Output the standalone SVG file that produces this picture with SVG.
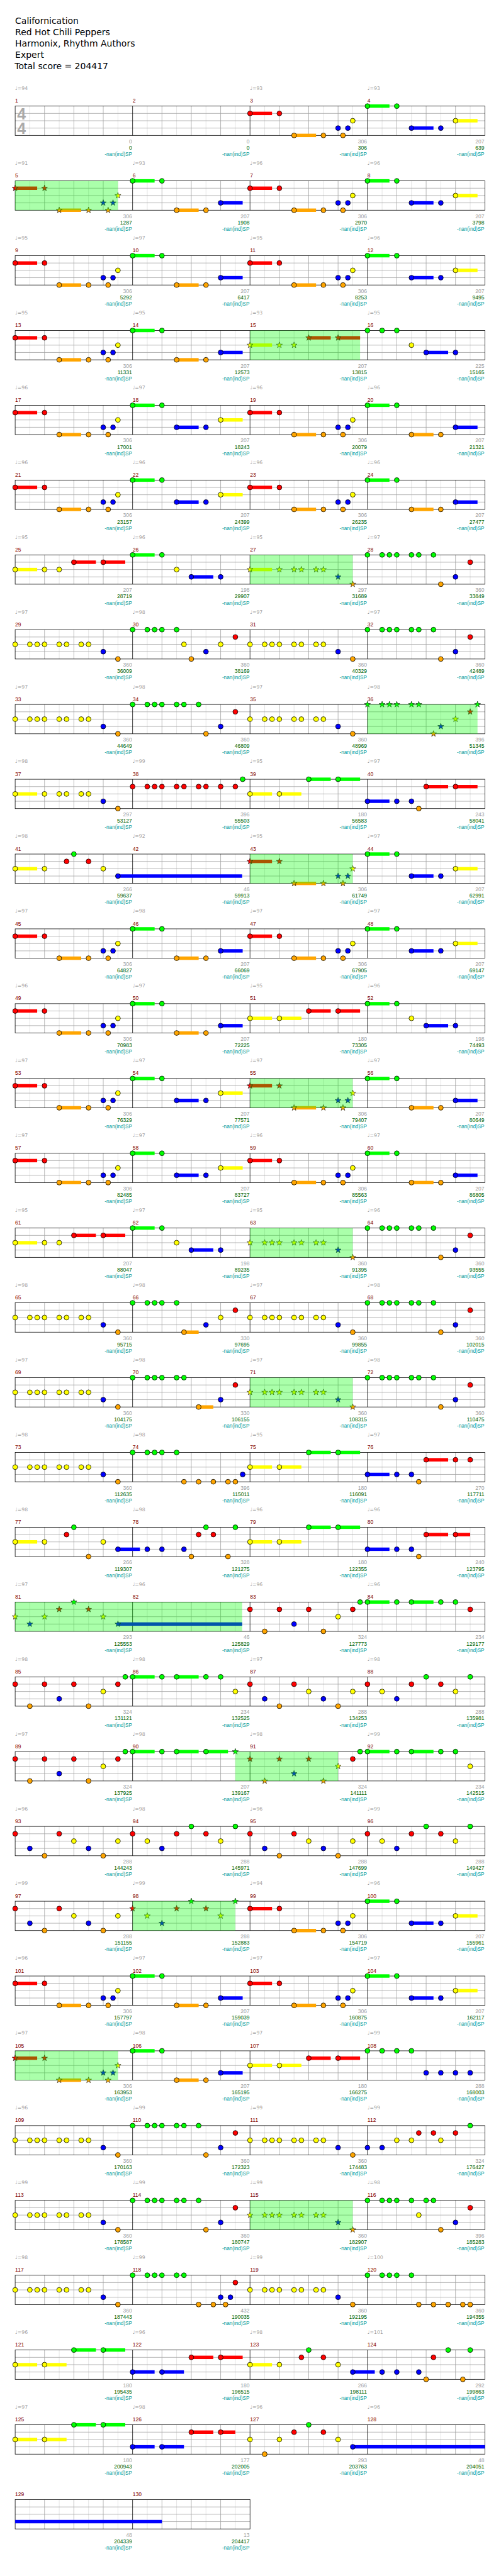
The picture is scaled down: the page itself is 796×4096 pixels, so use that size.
<svg xmlns="http://www.w3.org/2000/svg" width="796" height="4096" viewBox="0 0 796 4096">
<style>
.r{fill:#f00}.g{fill:#0f0}.y{fill:#ff0}.b{fill:#00f}.o{fill:#ffa500}
.sp{fill:#0f0;fill-opacity:.333}
text{font-family:"Liberation Sans",Arial,sans-serif;font-size:11px}
.tp{font-family:"DejaVu Sans",sans-serif;font-size:10px;fill:#a0a0a0}
.mn{fill:#800000}
.gy{fill:#a0a0a0;text-anchor:end}
.gn{fill:#006400;text-anchor:end}
.tl{fill:#009b9b;text-anchor:end;font-size:10.5px}
.ti{font-family:"DejaVu Sans",sans-serif;font-size:18px;fill:#000}
.ts{font-family:"Liberation Sans",sans-serif;font-weight:bold;font-size:32px;fill:#aaa}
</style>
<defs>
<circle id="c" r="5" stroke="#000" stroke-width="1"/>
<path id="s" d="M0,-6.5L1.53,-2.1L6.18,-2.01L2.47,0.8L3.82,5.26L0,2.6L-3.82,5.26L-2.47,0.8L-6.18,-2.01L-1.53,-2.1Z" stroke="#000" stroke-width=".7"/>
<g id="st4">
<path d="M61 0V60M121 0V60M181 0V60M241 0V60M301 0V60M361 0V60M421 0V60M481 0V60M541 0V60M601 0V60M661 0V60M721 0V60M781 0V60M841 0V60M901 0V60M961 0V60" stroke="#dcdcdc"/>
<path d="M91 0V60M151 0V60M211 0V60M331 0V60M391 0V60M451 0V60M571 0V60M631 0V60M691 0V60M811 0V60M871 0V60M931 0V60M31 15H991M31 30H991M31 45H991" stroke="#a0a0a0"/>
<path d="M271 0V60M511 0V60M751 0V60" stroke="#000"/>
<rect x="31" width="960" height="60" fill="none" stroke="#000"/>
</g>
<g id="st2">
<path d="M61 0V60M121 0V60M181 0V60M241 0V60M301 0V60M361 0V60M421 0V60M481 0V60" stroke="#dcdcdc"/>
<path d="M91 0V60M151 0V60M211 0V60M331 0V60M391 0V60M451 0V60M31 15H511M31 30H511M31 45H511" stroke="#a0a0a0"/>
<path d="M271 0V60" stroke="#000"/>
<rect x="31" width="480" height="60" fill="none" stroke="#000"/>
</g>
<g id="tl4"><text class="tl" y="102"><tspan x="270">-nan(ind)SP</tspan><tspan x="510">-nan(ind)SP</tspan><tspan x="750">-nan(ind)SP</tspan><tspan x="990">-nan(ind)SP</tspan></text></g>
<g id="tl2"><text class="tl" y="102"><tspan x="270">-nan(ind)SP</tspan><tspan x="510">-nan(ind)SP</tspan></text></g>
<g id="yc8"><use href="#c" class="y" y="30"/><use href="#c" class="y" x="30" y="30"/><use href="#c" class="y" x="45" y="30"/><use href="#c" class="y" x="60" y="30"/><use href="#c" class="y" x="90" y="30"/><use href="#c" class="y" x="105" y="30"/><use href="#c" class="y" x="135" y="30"/><use href="#c" class="y" x="150" y="30"/></g>
<g id="ys8"><use href="#s" class="y" y="30"/><use href="#s" class="y" x="30" y="30"/><use href="#s" class="y" x="45" y="30"/><use href="#s" class="y" x="60" y="30"/><use href="#s" class="y" x="90" y="30"/><use href="#s" class="y" x="105" y="30"/><use href="#s" class="y" x="135" y="30"/><use href="#s" class="y" x="150" y="30"/></g>
<g id="gc5"><use href="#c" class="g"/><use href="#c" class="g" x="30"/><use href="#c" class="g" x="45"/><use href="#c" class="g" x="60"/><use href="#c" class="g" x="90"/></g>
<g id="pA"><rect class="r" y="11.5" width="45" height="7"/><rect class="o" x="90" y="56.5" width="45" height="7"/><use href="#c" class="r" y="15"/><use href="#c" class="r" x="60" y="15"/><use href="#c" class="o" x="90" y="60"/><use href="#c" class="o" x="150" y="60"/><use href="#c" class="b" x="180" y="45"/><use href="#c" class="o" x="190" y="60"/><use href="#c" class="b" x="200" y="45"/><use href="#c" class="y" x="210" y="30"/></g>
<g id="pAs"><rect class="r" y="11.5" width="45" height="7"/><rect class="o" x="90" y="56.5" width="45" height="7"/><use href="#s" class="r" y="15"/><use href="#s" class="r" x="60" y="15"/><use href="#s" class="o" x="90" y="60"/><use href="#s" class="o" x="150" y="60"/><use href="#s" class="b" x="180" y="45"/><use href="#s" class="o" x="190" y="60"/><use href="#s" class="b" x="200" y="45"/><use href="#s" class="y" x="210" y="30"/></g>
<g id="pB1"><rect class="g" y="-3.5" width="45" height="7"/><rect class="o" x="90" y="56.5" width="45" height="7"/><rect class="b" x="180" y="41.5" width="45" height="7"/><use href="#c" class="g"/><use href="#c" class="g" x="60"/><use href="#c" class="o" x="90" y="60"/><use href="#c" class="o" x="150" y="60"/><use href="#c" class="b" x="180" y="45"/></g>
<g id="pB2"><rect class="g" y="-3.5" width="45" height="7"/><rect class="b" x="90" y="41.5" width="45" height="7"/><rect class="y" x="180" y="26.5" width="45" height="7"/><use href="#c" class="g"/><use href="#c" class="g" x="60"/><use href="#c" class="b" x="90" y="45"/><use href="#c" class="b" x="150" y="45"/><use href="#c" class="y" x="180" y="30"/></g>
<g id="p15s"><rect class="y" y="26.5" width="45" height="7"/><rect class="r" x="120" y="11.5" width="45" height="7"/><rect class="r" x="180" y="11.5" width="45" height="7"/><use href="#s" class="y" y="30"/><use href="#s" class="y" x="60" y="30"/><use href="#s" class="y" x="90" y="30"/><use href="#s" class="r" x="120" y="15"/><use href="#s" class="r" x="180" y="15"/></g>
<g id="p16"><rect class="b" x="120" y="41.5" width="45" height="7"/><use href="#c" class="g"/><use href="#c" class="g" x="30"/><use href="#c" class="g" x="60"/><use href="#c" class="y" x="90" y="30"/><use href="#c" class="b" x="120" y="45"/><use href="#c" class="b" x="180" y="45"/></g>
<g id="p25"><rect class="y" y="26.5" width="45" height="7"/><rect class="r" x="120" y="11.5" width="45" height="7"/><rect class="r" x="180" y="11.5" width="45" height="7"/><use href="#c" class="y" y="30"/><use href="#c" class="y" x="60" y="30"/><use href="#c" class="y" x="90" y="30"/><use href="#c" class="r" x="120" y="15"/><use href="#c" class="r" x="180" y="15"/></g>
<g id="p26"><rect class="g" y="-3.5" width="45" height="7"/><rect class="b" x="120" y="41.5" width="45" height="7"/><use href="#c" class="g"/><use href="#c" class="g" x="60"/><use href="#c" class="y" x="90" y="30"/><use href="#c" class="b" x="120" y="45"/><use href="#c" class="b" x="180" y="45"/></g>
<g id="p27s"><rect class="y" y="26.5" width="45" height="7"/><use href="#s" class="y" y="30"/><use href="#s" class="y" x="60" y="30"/><use href="#s" class="y" x="90" y="30"/><use href="#s" class="y" x="105" y="30"/><use href="#s" class="y" x="135" y="30"/><use href="#s" class="y" x="150" y="30"/><use href="#s" class="b" x="180" y="45"/><use href="#s" class="o" x="210" y="60"/></g>
<g id="p63s"><use href="#ys8"/><use href="#s" class="b" x="180" y="45"/><use href="#s" class="o" x="210" y="60"/></g>
<g id="p28"><use href="#gc5"/><use href="#c" class="g" x="105"/><use href="#c" class="g" x="135"/><use href="#c" class="o" x="150" y="60"/><use href="#c" class="b" x="180" y="45"/><use href="#c" class="r" x="210" y="15"/></g>
<g id="p29"><use href="#yc8"/><use href="#c" class="b" x="180" y="45"/><use href="#c" class="o" x="210" y="60"/></g>
<g id="p30"><use href="#gc5"/><use href="#c" class="y" x="105" y="30"/><use href="#c" class="o" x="120" y="60"/><use href="#c" class="b" x="150" y="45"/><use href="#c" class="y" x="180" y="30"/><use href="#c" class="r" x="210" y="15"/></g>
<g id="p36s"><use href="#s" class="g"/><use href="#s" class="g" x="30"/><use href="#s" class="g" x="45"/><use href="#s" class="g" x="60"/><use href="#s" class="g" x="90"/><use href="#s" class="g" x="105"/><use href="#s" class="o" x="135" y="60"/><use href="#s" class="b" x="150" y="45"/><use href="#s" class="y" x="180" y="30"/><use href="#s" class="r" x="210" y="15"/><use href="#s" class="g" x="225"/></g>
<g id="p37"><rect class="y" y="26.5" width="45" height="7"/><use href="#c" class="y" y="30"/><use href="#c" class="y" x="60" y="30"/><use href="#c" class="y" x="90" y="30"/><use href="#c" class="y" x="105" y="30"/><use href="#c" class="y" x="135" y="30"/><use href="#c" class="y" x="150" y="30"/><use href="#c" class="b" x="180" y="45"/><use href="#c" class="o" x="210" y="60"/></g>
<g id="p38"><use href="#c" class="r" y="15"/><use href="#c" class="r" x="30" y="15"/><use href="#c" class="r" x="45" y="15"/><use href="#c" class="r" x="60" y="15"/><use href="#c" class="r" x="90" y="15"/><use href="#c" class="r" x="105" y="15"/><use href="#c" class="r" x="135" y="15"/><use href="#c" class="r" x="150" y="15"/><use href="#c" class="r" x="180" y="15"/><use href="#c" class="r" x="210" y="15"/><use href="#c" class="g" x="225"/></g>
<g id="p39"><rect class="y" y="26.5" width="45" height="7"/><rect class="y" x="60" y="26.5" width="45" height="7"/><rect class="g" x="120" y="-3.5" width="45" height="7"/><rect class="g" x="180" y="-3.5" width="45" height="7"/><use href="#c" class="y" y="30"/><use href="#c" class="y" x="60" y="30"/><use href="#c" class="g" x="120"/><use href="#c" class="g" x="180"/></g>
<g id="p51"><rect class="y" y="26.5" width="45" height="7"/><rect class="y" x="60" y="26.5" width="45" height="7"/><rect class="r" x="120" y="11.5" width="45" height="7"/><rect class="r" x="180" y="11.5" width="45" height="7"/><use href="#c" class="y" y="30"/><use href="#c" class="y" x="60" y="30"/><use href="#c" class="r" x="120" y="15"/><use href="#c" class="r" x="180" y="15"/></g>
<g id="p122"><rect class="b" y="41.5" width="45" height="7"/><rect class="b" x="60" y="41.5" width="45" height="7"/><rect class="r" x="120" y="11.5" width="45" height="7"/><rect class="r" x="180" y="11.5" width="45" height="7"/><use href="#c" class="b" y="45"/><use href="#c" class="b" x="60" y="45"/><use href="#c" class="r" x="120" y="15"/><use href="#c" class="r" x="180" y="15"/></g>
<g id="p126"><rect class="b" y="41.5" width="45" height="7"/><rect class="b" x="60" y="41.5" width="45" height="7"/><rect class="r" x="120" y="11.5" width="45" height="7"/><rect class="r" x="180" y="11.5" width="30" height="7"/><use href="#c" class="b" y="45"/><use href="#c" class="b" x="60" y="45"/><use href="#c" class="r" x="120" y="15"/><use href="#c" class="r" x="180" y="15"/></g>
<g id="p40"><rect class="b" y="41.5" width="45" height="7"/><rect class="r" x="120" y="11.5" width="45" height="7"/><rect class="r" x="180" y="11.5" width="45" height="7"/><use href="#c" class="b" y="45"/><use href="#c" class="b" x="60" y="45"/><use href="#c" class="b" x="90" y="45"/><use href="#c" class="o" x="105" y="60"/><use href="#c" class="r" x="120" y="15"/><use href="#c" class="r" x="180" y="15"/></g>
<g id="p76"><rect class="b" y="41.5" width="45" height="7"/><rect class="r" x="120" y="11.5" width="45" height="7"/><use href="#c" class="b" y="45"/><use href="#c" class="b" x="60" y="45"/><use href="#c" class="b" x="90" y="45"/><use href="#c" class="o" x="105" y="60"/><use href="#c" class="r" x="120" y="15"/><use href="#c" class="r" x="180" y="15"/><use href="#c" class="r" x="210" y="15"/></g>
<g id="p80"><rect class="b" y="41.5" width="45" height="7"/><rect class="r" x="120" y="11.5" width="45" height="7"/><rect class="r" x="180" y="11.5" width="30" height="7"/><use href="#c" class="b" y="45"/><use href="#c" class="b" x="60" y="45"/><use href="#c" class="b" x="90" y="45"/><use href="#c" class="o" x="105" y="60"/><use href="#c" class="r" x="120" y="15"/><use href="#c" class="r" x="180" y="15"/></g>
<g id="p41"><rect class="y" y="26.5" width="45" height="7"/><rect class="b" x="210" y="41.5" width="254" height="7"/><use href="#c" class="y" y="30"/><use href="#c" class="y" x="60" y="30"/><use href="#c" class="r" x="105" y="15"/><use href="#c" class="g" x="120"/><use href="#c" class="r" x="150" y="15"/><use href="#c" class="y" x="180" y="30"/><use href="#c" class="b" x="210" y="45"/></g>
<g id="p77"><rect class="y" y="26.5" width="45" height="7"/><rect class="b" x="210" y="41.5" width="45" height="7"/><use href="#c" class="y" y="30"/><use href="#c" class="y" x="60" y="30"/><use href="#c" class="r" x="105" y="15"/><use href="#c" class="g" x="120"/><use href="#c" class="o" x="150" y="60"/><use href="#c" class="y" x="180" y="30"/><use href="#c" class="b" x="210" y="45"/></g>
<g id="p123"><rect class="y" y="26.5" width="45" height="7"/><rect class="b" x="210" y="41.5" width="45" height="7"/><use href="#c" class="y" y="30"/><use href="#c" class="y" x="60" y="30"/><use href="#c" class="r" x="105" y="15"/><use href="#c" class="g" x="120"/><use href="#c" class="r" x="150" y="15"/><use href="#c" class="y" x="180" y="30"/><use href="#c" class="b" x="210" y="45"/></g>
<g id="p78"><use href="#c" class="b" x="30" y="45"/><use href="#c" class="b" x="60" y="45"/><use href="#c" class="b" x="105" y="45"/><use href="#c" class="o" x="120" y="60"/><use href="#c" class="r" x="135" y="15"/><use href="#c" class="g" x="150"/><use href="#c" class="r" x="165" y="15"/><use href="#c" class="o" x="195" y="60"/><use href="#c" class="g" x="210"/></g>
<g id="p124"><use href="#c" class="b" x="30" y="45"/><use href="#c" class="b" x="60" y="45"/><use href="#c" class="b" x="105" y="45"/><use href="#c" class="o" x="120" y="60"/><use href="#c" class="r" x="135" y="15"/><use href="#c" class="g" x="165"/><use href="#c" class="o" x="195" y="60"/><use href="#c" class="g" x="210"/></g>
<g id="p66"><rect class="o" x="105" y="56.5" width="30" height="7"/><use href="#gc5"/><use href="#c" class="o" x="105" y="60"/><use href="#c" class="b" x="150" y="45"/><use href="#c" class="y" x="180" y="30"/><use href="#c" class="r" x="210" y="15"/></g>
<g id="p70"><rect class="o" x="135" y="56.5" width="30" height="7"/><use href="#gc5"/><use href="#c" class="g" x="105"/><use href="#c" class="o" x="135" y="60"/><use href="#c" class="b" x="180" y="45"/><use href="#c" class="r" x="210" y="15"/></g>
<g id="p74"><use href="#gc5"/><use href="#c" class="o" x="105" y="60"/><use href="#c" class="o" x="135" y="60"/><use href="#c" class="o" x="165" y="60"/><use href="#c" class="o" x="195" y="60"/><use href="#c" class="o" x="210" y="60"/><use href="#c" class="b" x="225" y="45"/></g>
<g id="p116"><use href="#gc5"/><use href="#c" class="y" x="105" y="30"/><use href="#c" class="g" x="120"/><use href="#c" class="g" x="135"/><use href="#c" class="o" x="150" y="60"/><use href="#c" class="b" x="180" y="45"/><use href="#c" class="r" x="210" y="15"/></g>
<g id="p118"><use href="#gc5"/><use href="#c" class="g" x="105"/><use href="#c" class="o" x="135" y="60"/><use href="#c" class="o" x="165" y="60"/><use href="#c" class="b" x="180" y="45"/><use href="#c" class="o" x="190" y="60"/><use href="#c" class="b" x="200" y="45"/><use href="#c" class="r" x="210" y="15"/></g>
<g id="p120"><use href="#gc5"/><use href="#c" class="o" x="105" y="60"/><use href="#c" class="o" x="135" y="60"/><use href="#c" class="o" x="165" y="60"/><use href="#c" class="o" x="195" y="60"/><use href="#c" class="o" x="210" y="60"/></g>
<g id="p81s"><rect class="b" x="210" y="41.5" width="254" height="7"/><use href="#s" class="y" y="30"/><use href="#s" class="b" x="30" y="45"/><use href="#s" class="y" x="60" y="30"/><use href="#s" class="r" x="90" y="15"/><use href="#s" class="g" x="120"/><use href="#s" class="r" x="150" y="15"/><use href="#s" class="y" x="180" y="30"/><use href="#s" class="b" x="210" y="45"/></g>
<g id="p83"><use href="#c" class="r" y="15"/><use href="#c" class="o" x="30" y="60"/><use href="#c" class="r" x="60" y="15"/><use href="#c" class="b" x="90" y="45"/><use href="#c" class="r" x="120" y="15"/><use href="#c" class="o" x="150" y="60"/><use href="#c" class="y" x="180" y="30"/><use href="#c" class="r" x="210" y="15"/><use href="#c" class="g" x="225"/></g>
<g id="p84"><rect class="g" y="-3.5" width="45" height="7"/><rect class="g" x="90" y="-3.5" width="45" height="7"/><use href="#c" class="g"/><use href="#c" class="g" x="60"/><use href="#c" class="g" x="90"/><use href="#c" class="g" x="150"/><use href="#c" class="g" x="180"/><use href="#c" class="r" x="210" y="15"/></g>
<g id="p86"><rect class="g" y="-3.5" width="45" height="7"/><rect class="g" x="90" y="-3.5" width="45" height="7"/><use href="#c" class="g"/><use href="#c" class="g" x="60"/><use href="#c" class="g" x="90"/><use href="#c" class="g" x="150"/><use href="#c" class="g" x="180"/><use href="#c" class="y" x="210" y="30"/></g>
<g id="p90"><rect class="g" y="-3.5" width="45" height="7"/><rect class="g" x="90" y="-3.5" width="45" height="7"/><rect class="g" x="150" y="-3.5" width="45" height="7"/><use href="#c" class="g"/><use href="#c" class="g" x="60"/><use href="#c" class="g" x="90"/><use href="#c" class="g" x="150"/><use href="#s" class="g" x="210"/></g>
<g id="p91"><use href="#s" class="r" y="15"/><use href="#s" class="o" x="30" y="60"/><use href="#s" class="r" x="60" y="15"/><use href="#s" class="b" x="90" y="45"/><use href="#s" class="r" x="120" y="15"/><use href="#s" class="o" x="150" y="60"/><use href="#s" class="y" x="180" y="30"/><use href="#c" class="r" x="210" y="15"/><use href="#c" class="g" x="225"/></g>
<g id="p87"><use href="#c" class="r" y="15"/><use href="#c" class="b" x="30" y="45"/><use href="#c" class="o" x="60" y="60"/><use href="#c" class="r" x="90" y="15"/><use href="#c" class="y" x="120" y="30"/><use href="#c" class="b" x="150" y="45"/><use href="#c" class="o" x="180" y="60"/><use href="#c" class="y" x="210" y="30"/></g>
<g id="p88"><use href="#c" class="r" y="15"/><use href="#c" class="y" x="30" y="30"/><use href="#c" class="b" x="60" y="45"/><use href="#c" class="r" x="90" y="15"/><use href="#c" class="g" x="120"/><use href="#c" class="r" x="150" y="15"/><use href="#c" class="y" x="180" y="30"/><use href="#c" class="g" x="210"/></g>
<g id="p98s"><use href="#s" class="r" y="15"/><use href="#s" class="y" x="30" y="30"/><use href="#s" class="b" x="60" y="45"/><use href="#s" class="r" x="90" y="15"/><use href="#s" class="g" x="120"/><use href="#s" class="r" x="150" y="15"/><use href="#s" class="y" x="180" y="30"/><use href="#s" class="g" x="210"/></g>
<g id="p108"><use href="#c" class="g"/><use href="#c" class="g" x="30"/><use href="#c" class="g" x="60"/><use href="#c" class="g" x="90"/><use href="#c" class="b" x="120" y="45"/><use href="#c" class="b" x="150" y="45"/><use href="#c" class="b" x="180" y="45"/><use href="#c" class="b" x="210" y="45"/></g>
<g id="p112"><use href="#c" class="b" y="45"/><use href="#c" class="b" x="30" y="45"/><use href="#c" class="y" x="60" y="30"/><use href="#c" class="y" x="90" y="30"/><use href="#c" class="r" x="105" y="15"/><use href="#c" class="r" x="135" y="15"/><use href="#c" class="y" x="150" y="30"/><use href="#c" class="r" x="180" y="15"/><use href="#c" class="g" x="210"/></g>
<g id="p127"><rect class="b" x="210" y="41.5" width="270" height="7"/><use href="#c" class="y" y="30"/><use href="#c" class="o" x="30" y="60"/><use href="#c" class="y" x="60" y="30"/><use href="#c" class="r" x="90" y="15"/><use href="#c" class="g" x="120"/><use href="#c" class="r" x="150" y="15"/><use href="#c" class="y" x="180" y="30"/><use href="#c" class="b" x="210" y="45"/></g>
</defs>
<rect width="796" height="4096" fill="#fff"/>
<g transform="scale(0.77734)">
<g id="title">
<text class="ti" x="31" y="49">Californication</text>
<text class="ti" x="31" y="72">Red Hot Chili Peppers</text>
<text class="ti" x="31" y="95">Harmonix, Rhythm Authors</text>
<text class="ti" x="31" y="118">Expert</text>
<text class="ti" x="30" y="141">Total score = 204417</text>
</g>

<g id="row1" transform="translate(0,217)"><use href="#st4"/>
<text class="ts" x="35" y="28">4</text><text class="ts" x="35" y="57">4</text>
<text class="tp" y="-33"><tspan x="31">♩=94</tspan><tspan x="511">♩=93</tspan><tspan x="751">♩=93</tspan></text>
<text class="mn" y="-7"><tspan x="31">1</tspan><tspan x="271">2</tspan><tspan x="511">3</tspan><tspan x="751">4</tspan></text>
<text class="gy" y="76"><tspan x="270">0</tspan><tspan x="510">0</tspan><tspan x="750">306</tspan><tspan x="990">207</tspan></text>
<text class="gn" y="89"><tspan x="270">0</tspan><tspan x="510">0</tspan><tspan x="750">306</tspan><tspan x="990">639</tspan></text>
<use href="#tl4"/>
<use href="#pA" x="511"/><use href="#pB2" x="751"/>
</g>

<g id="row2" transform="translate(0,370)"><use href="#st4"/>
<text class="tp" y="-33"><tspan x="31">♩=91</tspan><tspan x="271">♩=93</tspan><tspan x="511">♩=96</tspan><tspan x="751">♩=96</tspan></text>
<text class="mn" y="-7"><tspan x="31">5</tspan><tspan x="271">6</tspan><tspan x="511">7</tspan><tspan x="751">8</tspan></text>
<text class="gy" y="76"><tspan x="270">306</tspan><tspan x="510">207</tspan><tspan x="750">306</tspan><tspan x="990">207</tspan></text>
<text class="gn" y="89"><tspan x="270">1287</tspan><tspan x="510">1908</tspan><tspan x="750">2970</tspan><tspan x="990">3798</tspan></text>
<use href="#tl4"/>
<use href="#pAs" x="31"/><use href="#pB1" x="271"/><use href="#pA" x="511"/><use href="#pB2" x="751"/>
<rect class="sp" x="31" width="210" height="60"/>
</g>

<g id="row3" transform="translate(0,523)"><use href="#st4"/>
<text class="tp" y="-33"><tspan x="31">♩=95</tspan><tspan x="271">♩=97</tspan><tspan x="511">♩=95</tspan><tspan x="751">♩=96</tspan></text>
<text class="mn" y="-7"><tspan x="31">9</tspan><tspan x="271">10</tspan><tspan x="511">11</tspan><tspan x="751">12</tspan></text>
<text class="gy" y="76"><tspan x="270">306</tspan><tspan x="510">207</tspan><tspan x="750">306</tspan><tspan x="990">207</tspan></text>
<text class="gn" y="89"><tspan x="270">5292</tspan><tspan x="510">6417</tspan><tspan x="750">8253</tspan><tspan x="990">9495</tspan></text>
<use href="#tl4"/>
<use href="#pA" x="31"/><use href="#pB1" x="271"/><use href="#pA" x="511"/><use href="#pB2" x="751"/>
</g>

<g id="row4" transform="translate(0,676)"><use href="#st4"/>
<text class="tp" y="-33"><tspan x="31">♩=95</tspan><tspan x="271">♩=95</tspan><tspan x="511">♩=93</tspan><tspan x="751">♩=95</tspan></text>
<text class="mn" y="-7"><tspan x="31">13</tspan><tspan x="271">14</tspan><tspan x="511">15</tspan><tspan x="751">16</tspan></text>
<text class="gy" y="76"><tspan x="270">306</tspan><tspan x="510">207</tspan><tspan x="750">207</tspan><tspan x="990">225</tspan></text>
<text class="gn" y="89"><tspan x="270">11331</tspan><tspan x="510">12573</tspan><tspan x="750">13815</tspan><tspan x="990">15165</tspan></text>
<use href="#tl4"/>
<use href="#pA" x="31"/><use href="#pB1" x="271"/><use href="#p15s" x="511"/><use href="#p16" x="751"/>
<rect class="sp" x="511" width="225" height="60"/>
</g>

<g id="row5" transform="translate(0,829)"><use href="#st4"/>
<text class="tp" y="-33"><tspan x="31">♩=96</tspan><tspan x="271">♩=97</tspan><tspan x="511">♩=96</tspan><tspan x="751">♩=96</tspan></text>
<text class="mn" y="-7"><tspan x="31">17</tspan><tspan x="271">18</tspan><tspan x="511">19</tspan><tspan x="751">20</tspan></text>
<text class="gy" y="76"><tspan x="270">306</tspan><tspan x="510">207</tspan><tspan x="750">306</tspan><tspan x="990">207</tspan></text>
<text class="gn" y="89"><tspan x="270">17001</tspan><tspan x="510">18243</tspan><tspan x="750">20079</tspan><tspan x="990">21321</tspan></text>
<use href="#tl4"/>
<use href="#pA" x="31"/><use href="#pB2" x="271"/><use href="#pA" x="511"/><use href="#pB1" x="751"/>
</g>

<g id="row6" transform="translate(0,982)"><use href="#st4"/>
<text class="tp" y="-33"><tspan x="31">♩=96</tspan><tspan x="271">♩=96</tspan><tspan x="511">♩=96</tspan><tspan x="751">♩=96</tspan></text>
<text class="mn" y="-7"><tspan x="31">21</tspan><tspan x="271">22</tspan><tspan x="511">23</tspan><tspan x="751">24</tspan></text>
<text class="gy" y="76"><tspan x="270">306</tspan><tspan x="510">207</tspan><tspan x="750">306</tspan><tspan x="990">207</tspan></text>
<text class="gn" y="89"><tspan x="270">23157</tspan><tspan x="510">24399</tspan><tspan x="750">26235</tspan><tspan x="990">27477</tspan></text>
<use href="#tl4"/>
<use href="#pA" x="31"/><use href="#pB2" x="271"/><use href="#pA" x="511"/><use href="#pB1" x="751"/>
</g>

<g id="row7" transform="translate(0,1135)"><use href="#st4"/>
<text class="tp" y="-33"><tspan x="31">♩=95</tspan><tspan x="271">♩=96</tspan><tspan x="511">♩=95</tspan><tspan x="751">♩=97</tspan></text>
<text class="mn" y="-7"><tspan x="31">25</tspan><tspan x="271">26</tspan><tspan x="511">27</tspan><tspan x="751">28</tspan></text>
<text class="gy" y="76"><tspan x="270">207</tspan><tspan x="510">198</tspan><tspan x="750">297</tspan><tspan x="990">360</tspan></text>
<text class="gn" y="89"><tspan x="270">28719</tspan><tspan x="510">29907</tspan><tspan x="750">31689</tspan><tspan x="990">33849</tspan></text>
<use href="#tl4"/>
<use href="#p25" x="31"/><use href="#p26" x="271"/><use href="#p27s" x="511"/><use href="#p28" x="751"/>
<rect class="sp" x="511" width="210" height="60"/>
</g>

<g id="row8" transform="translate(0,1288)"><use href="#st4"/>
<text class="tp" y="-33"><tspan x="31">♩=97</tspan><tspan x="271">♩=98</tspan><tspan x="511">♩=97</tspan><tspan x="751">♩=97</tspan></text>
<text class="mn" y="-7"><tspan x="31">29</tspan><tspan x="271">30</tspan><tspan x="511">31</tspan><tspan x="751">32</tspan></text>
<text class="gy" y="76"><tspan x="270">360</tspan><tspan x="510">360</tspan><tspan x="750">360</tspan><tspan x="990">360</tspan></text>
<text class="gn" y="89"><tspan x="270">36009</tspan><tspan x="510">38169</tspan><tspan x="750">40329</tspan><tspan x="990">42489</tspan></text>
<use href="#tl4"/>
<use href="#p29" x="31"/><use href="#p30" x="271"/><use href="#p29" x="511"/><use href="#p28" x="751"/>
</g>

<g id="row9" transform="translate(0,1441)"><use href="#st4"/>
<text class="tp" y="-33"><tspan x="31">♩=97</tspan><tspan x="271">♩=98</tspan><tspan x="511">♩=97</tspan><tspan x="751">♩=98</tspan></text>
<text class="mn" y="-7"><tspan x="31">33</tspan><tspan x="271">34</tspan><tspan x="511">35</tspan><tspan x="751">36</tspan></text>
<text class="gy" y="76"><tspan x="270">360</tspan><tspan x="510">360</tspan><tspan x="750">360</tspan><tspan x="990">396</tspan></text>
<text class="gn" y="89"><tspan x="270">44649</tspan><tspan x="510">46809</tspan><tspan x="750">48969</tspan><tspan x="990">51345</tspan></text>
<use href="#tl4"/>
<use href="#p29" x="31"/><use href="#p28" x="271"/><use href="#p29" x="511"/><use href="#p36s" x="751"/>
<rect class="sp" x="751" width="225" height="60"/>
</g>

<g id="row10" transform="translate(0,1594)"><use href="#st4"/>
<text class="tp" y="-33"><tspan x="31">♩=98</tspan><tspan x="271">♩=99</tspan><tspan x="511">♩=95</tspan><tspan x="751">♩=97</tspan></text>
<text class="mn" y="-7"><tspan x="31">37</tspan><tspan x="271">38</tspan><tspan x="511">39</tspan><tspan x="751">40</tspan></text>
<text class="gy" y="76"><tspan x="270">297</tspan><tspan x="510">396</tspan><tspan x="750">180</tspan><tspan x="990">243</tspan></text>
<text class="gn" y="89"><tspan x="270">53127</tspan><tspan x="510">55503</tspan><tspan x="750">56583</tspan><tspan x="990">58041</tspan></text>
<use href="#tl4"/>
<use href="#p37" x="31"/><use href="#p38" x="271"/><use href="#p39" x="511"/><use href="#p40" x="751"/>
</g>

<g id="row11" transform="translate(0,1747)"><use href="#st4"/>
<text class="tp" y="-33"><tspan x="31">♩=98</tspan><tspan x="271">♩=92</tspan><tspan x="511">♩=95</tspan><tspan x="751">♩=97</tspan></text>
<text class="mn" y="-7"><tspan x="31">41</tspan><tspan x="271">42</tspan><tspan x="511">43</tspan><tspan x="751">44</tspan></text>
<text class="gy" y="76"><tspan x="270">266</tspan><tspan x="510">46</tspan><tspan x="750">306</tspan><tspan x="990">207</tspan></text>
<text class="gn" y="89"><tspan x="270">59637</tspan><tspan x="510">59913</tspan><tspan x="750">61749</tspan><tspan x="990">62991</tspan></text>
<use href="#tl4"/>
<use href="#p41" x="31"/><use href="#pAs" x="511"/><use href="#pB2" x="751"/>
<rect class="sp" x="511" width="210" height="60"/>
</g>

<g id="row12" transform="translate(0,1900)"><use href="#st4"/>
<text class="tp" y="-33"><tspan x="31">♩=97</tspan><tspan x="271">♩=98</tspan><tspan x="511">♩=97</tspan><tspan x="751">♩=97</tspan></text>
<text class="mn" y="-7"><tspan x="31">45</tspan><tspan x="271">46</tspan><tspan x="511">47</tspan><tspan x="751">48</tspan></text>
<text class="gy" y="76"><tspan x="270">306</tspan><tspan x="510">207</tspan><tspan x="750">306</tspan><tspan x="990">207</tspan></text>
<text class="gn" y="89"><tspan x="270">64827</tspan><tspan x="510">66069</tspan><tspan x="750">67905</tspan><tspan x="990">69147</tspan></text>
<use href="#tl4"/>
<use href="#pA" x="31"/><use href="#pB1" x="271"/><use href="#pA" x="511"/><use href="#pB2" x="751"/>
</g>

<g id="row13" transform="translate(0,2053)"><use href="#st4"/>
<text class="tp" y="-33"><tspan x="31">♩=96</tspan><tspan x="271">♩=97</tspan><tspan x="511">♩=95</tspan><tspan x="751">♩=96</tspan></text>
<text class="mn" y="-7"><tspan x="31">49</tspan><tspan x="271">50</tspan><tspan x="511">51</tspan><tspan x="751">52</tspan></text>
<text class="gy" y="76"><tspan x="270">306</tspan><tspan x="510">207</tspan><tspan x="750">180</tspan><tspan x="990">198</tspan></text>
<text class="gn" y="89"><tspan x="270">70983</tspan><tspan x="510">72225</tspan><tspan x="750">73305</tspan><tspan x="990">74493</tspan></text>
<use href="#tl4"/>
<use href="#pA" x="31"/><use href="#pB1" x="271"/><use href="#p51" x="511"/><use href="#p26" x="751"/>
</g>

<g id="row14" transform="translate(0,2206)"><use href="#st4"/>
<text class="tp" y="-33"><tspan x="31">♩=97</tspan><tspan x="271">♩=97</tspan><tspan x="511">♩=97</tspan><tspan x="751">♩=97</tspan></text>
<text class="mn" y="-7"><tspan x="31">53</tspan><tspan x="271">54</tspan><tspan x="511">55</tspan><tspan x="751">56</tspan></text>
<text class="gy" y="76"><tspan x="270">306</tspan><tspan x="510">207</tspan><tspan x="750">306</tspan><tspan x="990">207</tspan></text>
<text class="gn" y="89"><tspan x="270">76329</tspan><tspan x="510">77571</tspan><tspan x="750">79407</tspan><tspan x="990">80649</tspan></text>
<use href="#tl4"/>
<use href="#pA" x="31"/><use href="#pB2" x="271"/><use href="#pAs" x="511"/><use href="#pB1" x="751"/>
<rect class="sp" x="511" width="210" height="60"/>
</g>

<g id="row15" transform="translate(0,2359)"><use href="#st4"/>
<text class="tp" y="-33"><tspan x="31">♩=97</tspan><tspan x="271">♩=97</tspan><tspan x="511">♩=96</tspan><tspan x="751">♩=97</tspan></text>
<text class="mn" y="-7"><tspan x="31">57</tspan><tspan x="271">58</tspan><tspan x="511">59</tspan><tspan x="751">60</tspan></text>
<text class="gy" y="76"><tspan x="270">306</tspan><tspan x="510">207</tspan><tspan x="750">306</tspan><tspan x="990">207</tspan></text>
<text class="gn" y="89"><tspan x="270">82485</tspan><tspan x="510">83727</tspan><tspan x="750">85563</tspan><tspan x="990">86805</tspan></text>
<use href="#tl4"/>
<use href="#pA" x="31"/><use href="#pB2" x="271"/><use href="#pA" x="511"/><use href="#pB1" x="751"/>
</g>

<g id="row16" transform="translate(0,2512)"><use href="#st4"/>
<text class="tp" y="-33"><tspan x="31">♩=95</tspan><tspan x="271">♩=97</tspan><tspan x="511">♩=95</tspan><tspan x="751">♩=96</tspan></text>
<text class="mn" y="-7"><tspan x="31">61</tspan><tspan x="271">62</tspan><tspan x="511">63</tspan><tspan x="751">64</tspan></text>
<text class="gy" y="76"><tspan x="270">207</tspan><tspan x="510">198</tspan><tspan x="750">360</tspan><tspan x="990">360</tspan></text>
<text class="gn" y="89"><tspan x="270">88047</tspan><tspan x="510">89235</tspan><tspan x="750">91395</tspan><tspan x="990">93555</tspan></text>
<use href="#tl4"/>
<use href="#p25" x="31"/><use href="#p26" x="271"/><use href="#p63s" x="511"/><use href="#p28" x="751"/>
<rect class="sp" x="511" width="210" height="60"/>
</g>

<g id="row17" transform="translate(0,2665)"><use href="#st4"/>
<text class="tp" y="-33"><tspan x="31">♩=98</tspan><tspan x="271">♩=98</tspan><tspan x="511">♩=97</tspan><tspan x="751">♩=98</tspan></text>
<text class="mn" y="-7"><tspan x="31">65</tspan><tspan x="271">66</tspan><tspan x="511">67</tspan><tspan x="751">68</tspan></text>
<text class="gy" y="76"><tspan x="270">360</tspan><tspan x="510">330</tspan><tspan x="750">360</tspan><tspan x="990">360</tspan></text>
<text class="gn" y="89"><tspan x="270">95715</tspan><tspan x="510">97695</tspan><tspan x="750">99855</tspan><tspan x="990">102015</tspan></text>
<use href="#tl4"/>
<use href="#p29" x="31"/><use href="#p66" x="271"/><use href="#p29" x="511"/><use href="#p28" x="751"/>
</g>

<g id="row18" transform="translate(0,2818)"><use href="#st4"/>
<text class="tp" y="-33"><tspan x="31">♩=97</tspan><tspan x="271">♩=98</tspan><tspan x="511">♩=97</tspan><tspan x="751">♩=98</tspan></text>
<text class="mn" y="-7"><tspan x="31">69</tspan><tspan x="271">70</tspan><tspan x="511">71</tspan><tspan x="751">72</tspan></text>
<text class="gy" y="76"><tspan x="270">360</tspan><tspan x="510">330</tspan><tspan x="750">360</tspan><tspan x="990">360</tspan></text>
<text class="gn" y="89"><tspan x="270">104175</tspan><tspan x="510">106155</tspan><tspan x="750">108315</tspan><tspan x="990">110475</tspan></text>
<use href="#tl4"/>
<use href="#p29" x="31"/><use href="#p70" x="271"/><use href="#p63s" x="511"/><use href="#p28" x="751"/>
<rect class="sp" x="511" width="210" height="60"/>
</g>

<g id="row19" transform="translate(0,2971)"><use href="#st4"/>
<text class="tp" y="-33"><tspan x="31">♩=98</tspan><tspan x="271">♩=98</tspan><tspan x="511">♩=95</tspan><tspan x="751">♩=97</tspan></text>
<text class="mn" y="-7"><tspan x="31">73</tspan><tspan x="271">74</tspan><tspan x="511">75</tspan><tspan x="751">76</tspan></text>
<text class="gy" y="76"><tspan x="270">360</tspan><tspan x="510">396</tspan><tspan x="750">180</tspan><tspan x="990">270</tspan></text>
<text class="gn" y="89"><tspan x="270">112635</tspan><tspan x="510">115011</tspan><tspan x="750">116091</tspan><tspan x="990">117711</tspan></text>
<use href="#tl4"/>
<use href="#p29" x="31"/><use href="#p74" x="271"/><use href="#p39" x="511"/><use href="#p76" x="751"/>
</g>

<g id="row20" transform="translate(0,3124)"><use href="#st4"/>
<text class="tp" y="-33"><tspan x="31">♩=98</tspan><tspan x="271">♩=98</tspan><tspan x="511">♩=96</tspan><tspan x="751">♩=96</tspan></text>
<text class="mn" y="-7"><tspan x="31">77</tspan><tspan x="271">78</tspan><tspan x="511">79</tspan><tspan x="751">80</tspan></text>
<text class="gy" y="76"><tspan x="270">266</tspan><tspan x="510">328</tspan><tspan x="750">180</tspan><tspan x="990">240</tspan></text>
<text class="gn" y="89"><tspan x="270">119307</tspan><tspan x="510">121275</tspan><tspan x="750">122355</tspan><tspan x="990">123795</tspan></text>
<use href="#tl4"/>
<use href="#p77" x="31"/><use href="#p78" x="271"/><use href="#p39" x="511"/><use href="#p80" x="751"/>
</g>

<g id="row21" transform="translate(0,3277)"><use href="#st4"/>
<text class="tp" y="-33"><tspan x="31">♩=97</tspan><tspan x="271">♩=96</tspan><tspan x="511">♩=96</tspan><tspan x="751">♩=96</tspan></text>
<text class="mn" y="-7"><tspan x="31">81</tspan><tspan x="271">82</tspan><tspan x="511">83</tspan><tspan x="751">84</tspan></text>
<text class="gy" y="76"><tspan x="270">293</tspan><tspan x="510">46</tspan><tspan x="750">324</tspan><tspan x="990">234</tspan></text>
<text class="gn" y="89"><tspan x="270">125553</tspan><tspan x="510">125829</tspan><tspan x="750">127773</tspan><tspan x="990">129177</tspan></text>
<use href="#tl4"/>
<use href="#p81s" x="31"/><use href="#p83" x="511"/><use href="#p84" x="751"/>
<rect class="sp" x="31" width="464" height="60"/>
</g>

<g id="row22" transform="translate(0,3430)"><use href="#st4"/>
<text class="tp" y="-33"><tspan x="31">♩=98</tspan><tspan x="271">♩=98</tspan><tspan x="511">♩=97</tspan><tspan x="751">♩=98</tspan></text>
<text class="mn" y="-7"><tspan x="31">85</tspan><tspan x="271">86</tspan><tspan x="511">87</tspan><tspan x="751">88</tspan></text>
<text class="gy" y="76"><tspan x="270">324</tspan><tspan x="510">234</tspan><tspan x="750">288</tspan><tspan x="990">288</tspan></text>
<text class="gn" y="89"><tspan x="270">131121</tspan><tspan x="510">132525</tspan><tspan x="750">134253</tspan><tspan x="990">135981</tspan></text>
<use href="#tl4"/>
<use href="#p83" x="31"/><use href="#p86" x="271"/><use href="#p87" x="511"/><use href="#p88" x="751"/>
</g>

<g id="row23" transform="translate(0,3583)"><use href="#st4"/>
<text class="tp" y="-33"><tspan x="31">♩=97</tspan><tspan x="271">♩=98</tspan><tspan x="511">♩=98</tspan><tspan x="751">♩=99</tspan></text>
<text class="mn" y="-7"><tspan x="31">89</tspan><tspan x="271">90</tspan><tspan x="511">91</tspan><tspan x="751">92</tspan></text>
<text class="gy" y="76"><tspan x="270">324</tspan><tspan x="510">207</tspan><tspan x="750">324</tspan><tspan x="990">234</tspan></text>
<text class="gn" y="89"><tspan x="270">137925</tspan><tspan x="510">139167</tspan><tspan x="750">141111</tspan><tspan x="990">142515</tspan></text>
<use href="#tl4"/>
<use href="#p83" x="31"/><use href="#p90" x="271"/><use href="#p91" x="511"/><use href="#p86" x="751"/>
<rect class="sp" x="481" width="210" height="60"/>
</g>

<g id="row24" transform="translate(0,3736)"><use href="#st4"/>
<text class="tp" y="-33"><tspan x="31">♩=96</tspan><tspan x="271">♩=98</tspan><tspan x="511">♩=96</tspan><tspan x="751">♩=99</tspan></text>
<text class="mn" y="-7"><tspan x="31">93</tspan><tspan x="271">94</tspan><tspan x="511">95</tspan><tspan x="751">96</tspan></text>
<text class="gy" y="76"><tspan x="270">288</tspan><tspan x="510">288</tspan><tspan x="750">288</tspan><tspan x="990">288</tspan></text>
<text class="gn" y="89"><tspan x="270">144243</tspan><tspan x="510">145971</tspan><tspan x="750">147699</tspan><tspan x="990">149427</tspan></text>
<use href="#tl4"/>
<use href="#p87" x="31"/><use href="#p88" x="271"/><use href="#p87" x="511"/><use href="#p88" x="751"/>
</g>

<g id="row25" transform="translate(0,3889)"><use href="#st4"/>
<text class="tp" y="-33"><tspan x="31">♩=99</tspan><tspan x="271">♩=99</tspan><tspan x="511">♩=94</tspan><tspan x="751">♩=96</tspan></text>
<text class="mn" y="-7"><tspan x="31">97</tspan><tspan x="271">98</tspan><tspan x="511">99</tspan><tspan x="751">100</tspan></text>
<text class="gy" y="76"><tspan x="270">288</tspan><tspan x="510">288</tspan><tspan x="750">306</tspan><tspan x="990">207</tspan></text>
<text class="gn" y="89"><tspan x="270">151155</tspan><tspan x="510">152883</tspan><tspan x="750">154719</tspan><tspan x="990">155961</tspan></text>
<use href="#tl4"/>
<use href="#p87" x="31"/><use href="#p98s" x="271"/><use href="#pA" x="511"/><use href="#pB2" x="751"/>
<rect class="sp" x="271" width="210" height="60"/>
</g>

<g id="row26" transform="translate(0,4042)"><use href="#st4"/>
<text class="tp" y="-33"><tspan x="31">♩=96</tspan><tspan x="271">♩=97</tspan><tspan x="511">♩=97</tspan><tspan x="751">♩=97</tspan></text>
<text class="mn" y="-7"><tspan x="31">101</tspan><tspan x="271">102</tspan><tspan x="511">103</tspan><tspan x="751">104</tspan></text>
<text class="gy" y="76"><tspan x="270">306</tspan><tspan x="510">207</tspan><tspan x="750">306</tspan><tspan x="990">207</tspan></text>
<text class="gn" y="89"><tspan x="270">157797</tspan><tspan x="510">159039</tspan><tspan x="750">160875</tspan><tspan x="990">162117</tspan></text>
<use href="#tl4"/>
<use href="#pA" x="31"/><use href="#pB1" x="271"/><use href="#pA" x="511"/><use href="#pB2" x="751"/>
</g>

<g id="row27" transform="translate(0,4195)"><use href="#st4"/>
<text class="tp" y="-33"><tspan x="31">♩=97</tspan><tspan x="271">♩=98</tspan><tspan x="511">♩=97</tspan><tspan x="751">♩=99</tspan></text>
<text class="mn" y="-7"><tspan x="31">105</tspan><tspan x="271">106</tspan><tspan x="511">107</tspan><tspan x="751">108</tspan></text>
<text class="gy" y="76"><tspan x="270">306</tspan><tspan x="510">207</tspan><tspan x="750">180</tspan><tspan x="990">288</tspan></text>
<text class="gn" y="89"><tspan x="270">163953</tspan><tspan x="510">165195</tspan><tspan x="750">166275</tspan><tspan x="990">168003</tspan></text>
<use href="#tl4"/>
<use href="#pAs" x="31"/><use href="#pB1" x="271"/><use href="#p51" x="511"/><use href="#p108" x="751"/>
<rect class="sp" x="31" width="210" height="60"/>
</g>

<g id="row28" transform="translate(0,4348)"><use href="#st4"/>
<text class="tp" y="-33"><tspan x="31">♩=96</tspan><tspan x="271">♩=99</tspan><tspan x="511">♩=99</tspan><tspan x="751">♩=99</tspan></text>
<text class="mn" y="-7"><tspan x="31">109</tspan><tspan x="271">110</tspan><tspan x="511">111</tspan><tspan x="751">112</tspan></text>
<text class="gy" y="76"><tspan x="270">360</tspan><tspan x="510">360</tspan><tspan x="750">360</tspan><tspan x="990">324</tspan></text>
<text class="gn" y="89"><tspan x="270">170163</tspan><tspan x="510">172323</tspan><tspan x="750">174483</tspan><tspan x="990">176427</tspan></text>
<use href="#tl4"/>
<use href="#p29" x="31"/><use href="#p28" x="271"/><use href="#p29" x="511"/><use href="#p112" x="751"/>
</g>

<g id="row29" transform="translate(0,4501)"><use href="#st4"/>
<text class="tp" y="-33"><tspan x="31">♩=99</tspan><tspan x="271">♩=99</tspan><tspan x="511">♩=99</tspan><tspan x="751">♩=98</tspan></text>
<text class="mn" y="-7"><tspan x="31">113</tspan><tspan x="271">114</tspan><tspan x="511">115</tspan><tspan x="751">116</tspan></text>
<text class="gy" y="76"><tspan x="270">360</tspan><tspan x="510">360</tspan><tspan x="750">360</tspan><tspan x="990">396</tspan></text>
<text class="gn" y="89"><tspan x="270">178587</tspan><tspan x="510">180747</tspan><tspan x="750">182907</tspan><tspan x="990">185283</tspan></text>
<use href="#tl4"/>
<use href="#p29" x="31"/><use href="#p28" x="271"/><use href="#p63s" x="511"/><use href="#p116" x="751"/>
<rect class="sp" x="511" width="210" height="60"/>
</g>

<g id="row30" transform="translate(0,4654)"><use href="#st4"/>
<text class="tp" y="-33"><tspan x="31">♩=98</tspan><tspan x="271">♩=99</tspan><tspan x="511">♩=99</tspan><tspan x="751">♩=100</tspan></text>
<text class="mn" y="-7"><tspan x="31">117</tspan><tspan x="271">118</tspan><tspan x="511">119</tspan><tspan x="751">120</tspan></text>
<text class="gy" y="76"><tspan x="270">360</tspan><tspan x="510">432</tspan><tspan x="750">360</tspan><tspan x="990">360</tspan></text>
<text class="gn" y="89"><tspan x="270">187443</tspan><tspan x="510">190035</tspan><tspan x="750">192195</tspan><tspan x="990">194355</tspan></text>
<use href="#tl4"/>
<use href="#p29" x="31"/><use href="#p118" x="271"/><use href="#p29" x="511"/><use href="#p120" x="751"/>
</g>

<g id="row31" transform="translate(0,4807)"><use href="#st4"/>
<text class="tp" y="-33"><tspan x="31">♩=96</tspan><tspan x="271">♩=96</tspan><tspan x="511">♩=98</tspan><tspan x="751">♩=101</tspan></text>
<text class="mn" y="-7"><tspan x="31">121</tspan><tspan x="271">122</tspan><tspan x="511">123</tspan><tspan x="751">124</tspan></text>
<text class="gy" y="76"><tspan x="270">180</tspan><tspan x="510">180</tspan><tspan x="750">266</tspan><tspan x="990">292</tspan></text>
<text class="gn" y="89"><tspan x="270">195435</tspan><tspan x="510">196515</tspan><tspan x="750">198111</tspan><tspan x="990">199863</tspan></text>
<use href="#tl4"/>
<use href="#p39" x="31"/><use href="#p122" x="271"/><use href="#p123" x="511"/><use href="#p124" x="751"/>
</g>

<g id="row32" transform="translate(0,4960)"><use href="#st4"/>
<text class="tp" y="-33"><tspan x="31">♩=97</tspan><tspan x="271">♩=98</tspan><tspan x="511">♩=96</tspan><tspan x="751">♩=96</tspan></text>
<text class="mn" y="-7"><tspan x="31">125</tspan><tspan x="271">126</tspan><tspan x="511">127</tspan><tspan x="751">128</tspan></text>
<text class="gy" y="76"><tspan x="270">180</tspan><tspan x="510">177</tspan><tspan x="750">293</tspan><tspan x="990">48</tspan></text>
<text class="gn" y="89"><tspan x="270">200943</tspan><tspan x="510">202005</tspan><tspan x="750">203763</tspan><tspan x="990">204051</tspan></text>
<use href="#tl4"/>
<use href="#p39" x="31"/><use href="#p126" x="271"/><use href="#p127" x="511"/>
</g>

<g id="row33" transform="translate(0,5113)"><use href="#st2"/>
<text class="mn" y="-7"><tspan x="31">129</tspan><tspan x="271">130</tspan></text>
<text class="gy" y="76"><tspan x="270">48</tspan><tspan x="510">13</tspan></text>
<text class="gn" y="89"><tspan x="270">204339</tspan><tspan x="510">204417</tspan></text>
<use href="#tl2"/>
<rect class="b" x="31" y="41.5" width="300" height="7"/>
</g>
</g>
</svg>
